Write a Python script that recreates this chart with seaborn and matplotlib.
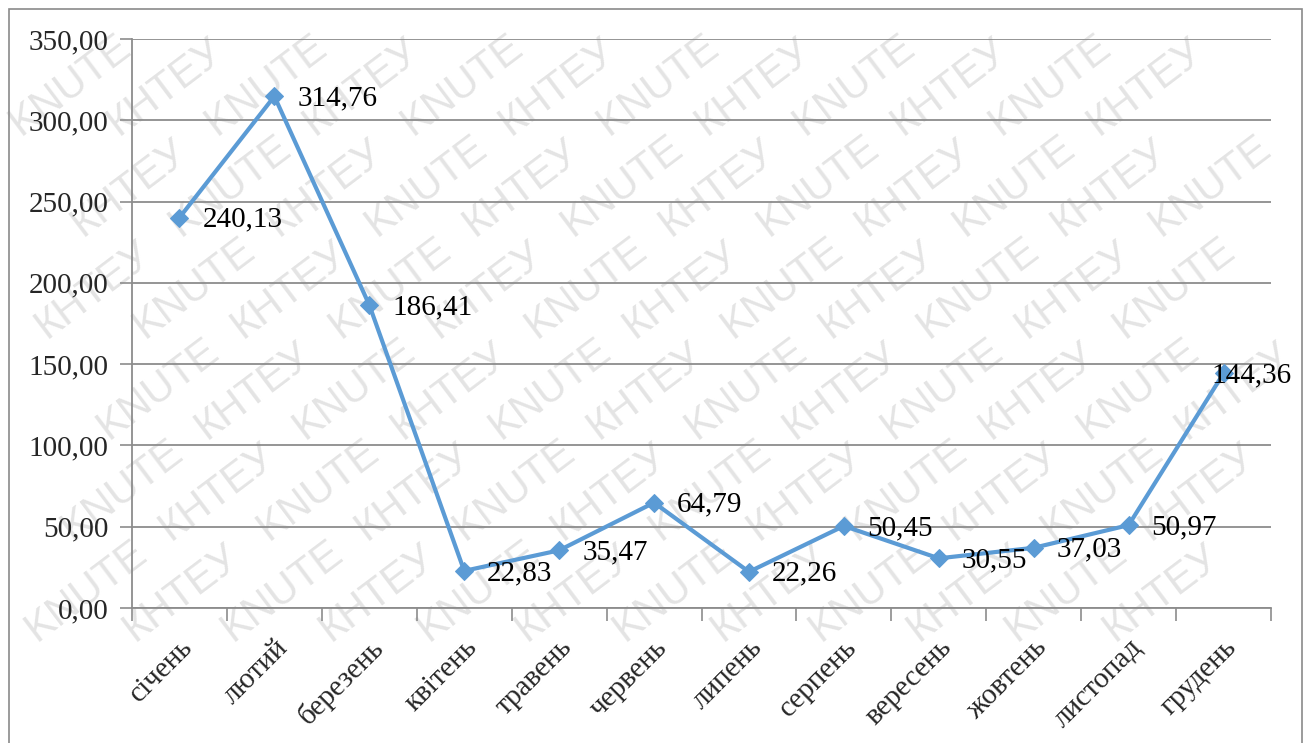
import math
import matplotlib
matplotlib.use("Agg")
import matplotlib.pyplot as plt
import seaborn as sns
import pandas as pd
from matplotlib.patches import Rectangle
from matplotlib.ticker import FixedLocator, FuncFormatter
import matplotlib.transforms as mtransforms

months = ["січень", "лютий", "березень", "квітень", "травень", "червень",
          "липень", "серпень", "вересень", "жовтень", "листопад", "грудень"]
values = [240.13, 314.76, 186.41, 22.83, 35.47, 64.79,
          22.26, 50.45, 30.55, 37.03, 50.97, 144.36]
y_ticks = [0, 50, 100, 150, 200, 250, 300, 350]
watermark_words = ["KNUTE", "КНТЕУ"]

line_color = "#5B9BD5"
grid_color = "#8C8C8C"
serif = ["Liberation Serif", "DejaVu Serif"]

sns.set_theme(style="white")
plt.rcParams["font.family"] = serif

W, H = 1310, 743
fig = plt.figure(figsize=(W / 100, H / 100), dpi=100)
fig.patch.set_facecolor("white")

# diagonal watermark behind the chart, whole words only
angle = 37
ca, sa = math.cos(math.radians(angle)), math.sin(math.radians(angle))
renderer = fig.canvas.get_renderer()
for j in range(-14, 16):
    ox, oy = j * 98, 0
    for k in range(-2, 14):
        px, py = ox + k * 168 * ca, oy + k * 168 * sa
        t = fig.text(px / W, py / H, watermark_words[(k + j) % 2],
                     rotation=angle, rotation_mode="anchor", ha="left",
                     va="baseline", fontsize=30, color="#E4E4E4",
                     family="Liberation Sans", zorder=-1)
        bb = t.get_window_extent(renderer)
        if bb.x0 < 1 or bb.y0 < 1 or bb.x1 > W - 1 or bb.y1 > H - 1:
            t.remove()

# outer frame
fig.patches.append(Rectangle((9 / W, -0.02), 1293 / W, 1.02 - 9 / H,
                             transform=fig.transFigure, fill=False,
                             edgecolor="#8A8A8A", linewidth=1.2, zorder=1))

ax = fig.add_axes([132 / W, 1 - 608 / H, (1271 - 132) / W, (608 - 39) / H])
ax.patch.set_alpha(0)

df = pd.DataFrame({"month": months, "value": values})
df["pos"] = range(len(months))
sns.lineplot(data=df, x="pos", y="value", ax=ax, color=line_color,
             linewidth=3, marker="D", markersize=9, markeredgecolor=line_color,
             zorder=3)

ax.set_xlim(-0.5, len(months) - 0.5)
ax.set_ylim(0, 350)
ax.set_xlabel("")
ax.set_ylabel("")

ax.yaxis.set_major_locator(FixedLocator(y_ticks))
ax.yaxis.set_major_formatter(FuncFormatter(lambda v, p: f"{v:.2f}".replace(".", ",")))
ax.grid(axis="y", color=grid_color, linewidth=1.3)
ax.set_axisbelow(True)

ax.set_xticks(range(len(months)))
ax.set_xticklabels(months, rotation=45, ha="right", va="top",
                   rotation_mode="anchor", fontsize=21, family=serif)
shift = mtransforms.ScaledTranslation(-4 / 100, 0, fig.dpi_scale_trans)
for lab in ax.get_xticklabels():
    lab.set_transform(lab.get_transform() + shift)
ax.tick_params(axis="x", which="major", length=0, pad=19)
ax.set_xticks([i - 0.5 for i in range(len(months) + 1)], minor=True)
ax.tick_params(axis="x", which="minor", length=9, width=1.2, color=grid_color,
               direction="out", bottom=True)
ax.tick_params(axis="y", length=9, width=1.2, color=grid_color, direction="out",
               left=True, labelsize=21, pad=8)
for lab in ax.get_yticklabels():
    lab.set_family(serif)

for side in ["top", "right"]:
    ax.spines[side].set_visible(False)
for side in ["left", "bottom"]:
    ax.spines[side].set_color(grid_color)
    ax.spines[side].set_linewidth(1.3)

# value labels to the right of each point
for i, v in enumerate(values):
    dx = 23 if i < len(values) - 1 else -12
    off = mtransforms.offset_copy(ax.transData, fig=fig, x=dx, y=-2, units="dots")
    ax.text(i, v, f"{v:.2f}".replace(".", ","), transform=off, ha="left",
            va="center", fontsize=21, family=serif, color="black", zorder=4)

fig.savefig("out.png", dpi=100, facecolor="white")
